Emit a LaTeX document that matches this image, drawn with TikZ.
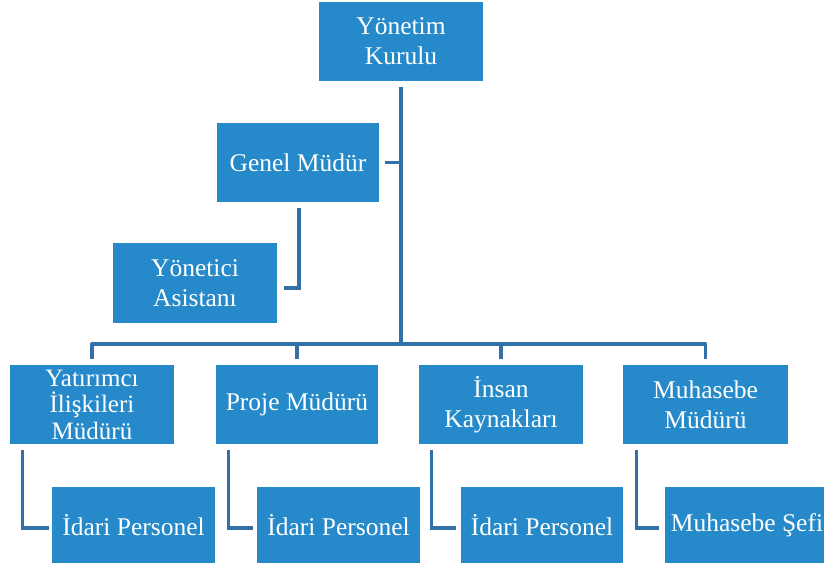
\documentclass[tikz,border=0pt]{standalone}
\usepackage{fontspec}
\setmainfont{Liberation Serif}
\definecolor{boxblue}{RGB}{38,138,202}
\definecolor{lineblue}{RGB}{52,112,168}
\tikzset{
  box/.style={fill=boxblue, draw=none, text=white, align=center, inner sep=0pt,
    font=\fontsize{25.5}{30}\selectfont},
  wa/.style={minimum width=164pt, minimum height=79pt},
  wb/.style={minimum width=163pt, minimum height=76pt},
  conn/.style={draw=lineblue, line width=3.2pt}
}
\begin{document}
\begin{tikzpicture}[x=1pt,y=-1pt]
\useasboundingbox (0,0) rectangle (824,569);
\node[box,wa] (yk) at (401,41.5) {Yönetim\\Kurulu};
\node[box,wa,minimum width=162pt] (gm) at (298,162.5) {Genel Müdür};
\node[box,wa,minimum height=80pt] (ya) at (195,283) {Yönetici\\Asistanı};
\node[box,wa,font=\fontsize{25}{26.5}\selectfont] (y1) at (92,404.5) {Yatırımcı\\İlişkileri\\Müdürü};
\node[box,wa,minimum width=162pt] (p1) at (297,404.5) {Proje Müdürü};
\node[box,wa] (i1) at (501,404.5) {İnsan\\Kaynakları};
\node[box,wa,minimum width=165pt] (m1) at (705.5,404.5) {Muhasebe\\Müdürü};
\node[box,wb] (a) at (133.5,525) {İdari Personel};
\node[box,wb] (b) at (338.5,525) {İdari Personel};
\node[box,wb,minimum width=162pt] (c) at (542,525) {İdari Personel};
\node[box,wb,minimum width=164pt] (d) at (747,525) {Muhasebe Şefi};
\coordinate (bus) at (401,344);
\draw[conn] ([yshift=-6pt]yk.south) -- (bus);
\draw[conn] ([xshift=6pt]gm.east) -- (gm.east -| bus);
\draw[conn] ([xshift=1pt,yshift=-6pt]gm.south) |- ([xshift=7pt,yshift=-5pt]ya.east);
\draw[conn,line join=round] ([yshift=6pt]y1.north) -- (y1.north |- bus) -- (m1.north |- bus) -- ([yshift=6pt]m1.north);
\draw[conn] ([yshift=6pt]p1.north) -- (p1.north |- bus);
\draw[conn] ([yshift=6pt]i1.north) -- (i1.north |- bus);
\draw[conn] ([xshift=13pt,yshift=-6pt]y1.south west) |- ([xshift=-3pt,yshift=-3pt]a.west);
\draw[conn] ([xshift=13pt,yshift=-6pt]p1.south west) |- ([xshift=-4pt,yshift=-3pt]b.west);
\draw[conn] ([xshift=13pt,yshift=-6pt]i1.south west) |- ([xshift=-5pt,yshift=-3pt]c.west);
\draw[conn] ([xshift=14pt,yshift=-6pt]m1.south west) |- ([xshift=-6pt,yshift=-3pt]d.west);
\end{tikzpicture}
\end{document}
